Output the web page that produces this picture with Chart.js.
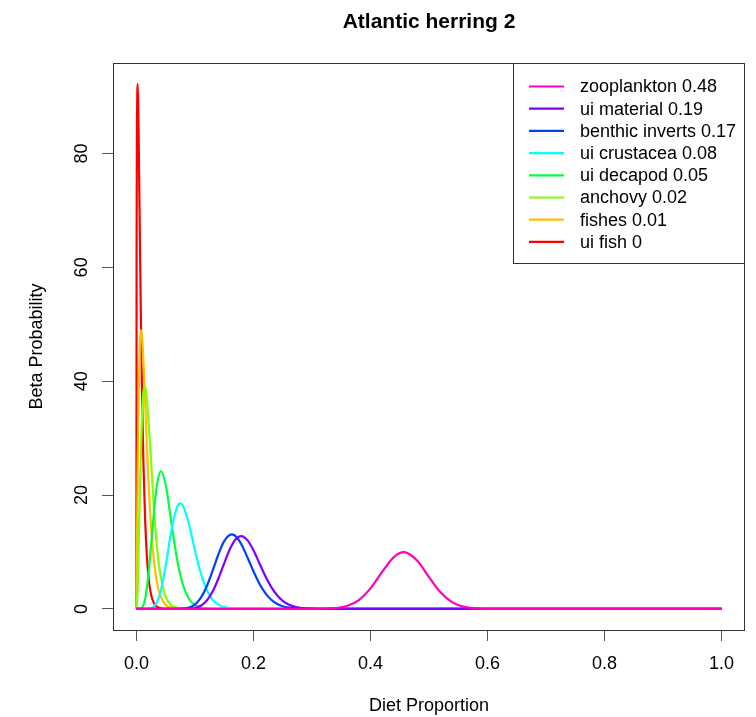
<!DOCTYPE html>
<html>
<head>
<meta charset="utf-8">
<script src="https://cdn.jsdelivr.net/npm/chart.js@4/dist/chart.umd.min.js"></script>
<style>
  body { margin: 0; background: #fff; }
  canvas { display: block; }
</style>
</head>
<body>
<canvas id="chart1" width="756" height="717"></canvas>
<script>
const title = "Atlantic herring 2"
const xLabel = "Diet Proportion"
const yLabel = "Beta Probability"
const xTicks = [0, 0.2, 0.4, 0.6, 0.8, 1.0]
const yTicks = [0, 20, 40, 60, 80]

const seriesNames = ["zooplankton 0.48", "ui material 0.19", "benthic inverts 0.17", "ui crustacea 0.08",
                     "ui decapod 0.05", "anchovy 0.02", "fishes 0.01", "ui fish 0"]
const seriesColors = ["#FF00BF", "#8000FF", "#0040FF", "#00FFFF", "#00FF40", "#80FF00", "#FFBF00", "#FF0000"]

// values, x = diet proportion, y = density
const zooplanktonX = [0, 0.30, 0.32, 0.34, 0.36, 0.38, 0.40, 0.42, 0.44, 0.457, 0.46, 0.48, 0.50, 0.52, 0.54, 0.56, 0.58, 0.60, 0.62, 1]
const zooplanktonY = [0, 0.005, 0.03, 0.14, 0.53, 1.56, 3.61, 6.50, 9.11, 9.97, 9.94, 8.45, 5.59, 2.88, 1.16, 0.36, 0.09, 0.02, 0, 0]

const uiMaterialX = [0, 0.09, 0.10, 0.11, 0.12, 0.13, 0.14, 0.15, 0.16, 0.17, 0.179, 0.19, 0.20, 0.21, 0.22, 0.23, 0.24, 0.25, 0.26, 0.27, 0.28, 0.30, 0.32, 1]
const uiMaterialY = [0, 0.05, 0.17, 0.55, 1.43, 3.01, 5.31, 8.01, 10.56, 12.29, 12.8, 12.04, 10.29, 8.07, 5.83, 3.92, 2.45, 1.43, 0.78, 0.40, 0.19, 0.04, 0, 0]

const benthicX = [0, 0.07, 0.08, 0.09, 0.10, 0.11, 0.12, 0.13, 0.14, 0.15, 0.163, 0.17, 0.18, 0.19, 0.20, 0.21, 0.22, 0.23, 0.24, 0.25, 0.26, 0.27, 0.28, 0.30, 1]
const benthicY = [0, 0.01, 0.05, 0.23, 0.76, 1.93, 3.94, 6.65, 9.56, 11.9, 13.1, 12.75, 11.24, 9.0, 6.61, 4.48, 2.82, 1.65, 0.90, 0.46, 0.22, 0.10, 0.04, 0, 0]

const crustaceaX = [0, 0.02, 0.03, 0.04, 0.05, 0.06, 0.07, 0.075, 0.08, 0.09, 0.10, 0.11, 0.12, 0.13, 0.14, 0.15, 0.16, 0.18, 0.20, 1]
const crustaceaY = [0, 0.02, 0.39, 2.52, 7.58, 13.9, 18.0, 18.55, 18.05, 14.8, 10.3, 6.27, 3.40, 1.66, 0.75, 0.31, 0.12, 0.02, 0, 0]

const decapodX = [0, 0.005, 0.01, 0.015, 0.02, 0.025, 0.03, 0.035, 0.042, 0.05, 0.06, 0.07, 0.08, 0.09, 0.10, 0.11, 0.12, 0.14, 1]
const decapodY = [0, 0.01, 0.27, 1.81, 5.54, 11.1, 17.0, 21.7, 24.2, 21.8, 15.0, 8.43, 4.08, 1.75, 0.68, 0.24, 0.08, 0, 0]

const anchovyX = [0, 0.001, 0.002, 0.004, 0.006, 0.008, 0.010, 0.012, 0.0143, 0.017, 0.02, 0.025, 0.03, 0.035, 0.04, 0.05, 0.06, 0.07, 0.08, 0.09, 1]
const anchovyY = [0, 0.86, 3.41, 11.6, 20.8, 28.8, 34.7, 38.1, 39.2, 37.8, 34.0, 26.1, 17.6, 11.1, 6.66, 2.15, 0.62, 0.17, 0.04, 0, 0]

const fishesX = [0, 0.0005, 0.001, 0.002, 0.003, 0.004, 0.006, 0.008, 0.010, 0.013, 0.016, 0.02, 0.025, 0.03, 0.035, 0.04, 0.05, 0.06, 0.07, 0.08, 1]
const fishesY = [0, 5.1, 11.1, 22.4, 31.7, 38.7, 46.8, 49.0, 47.4, 41.2, 33.6, 23.8, 14.5, 8.4, 4.7, 2.57, 0.72, 0.19, 0.05, 0, 0]

const uiFishX = [0, 0.0003, 0.0006, 0.001, 0.0015, 0.002, 0.003, 0.004, 0.006, 0.008, 0.010, 0.012, 0.015, 0.018, 0.021, 0.025, 0.03, 0.035, 0.04, 0.05, 0.06, 1]
const uiFishY = [0, 60.0, 75.0, 85.6, 90.5, 92.2, 89.0, 81.8, 64.5, 48.5, 35.5, 25.6, 15.4, 9.1, 5.3, 2.55, 1.0, 0.39, 0.15, 0.02, 0, 0]

const seriesX = [zooplanktonX, uiMaterialX, benthicX, crustaceaX, decapodX, anchovyX, fishesX, uiFishX]
const seriesY = [zooplanktonY, uiMaterialY, benthicY, crustaceaY, decapodY, anchovyY, fishesY, uiFishY]

;(function() {
    const FONT = "'Liberation Sans', Arial, sans-serif"
    Chart.defaults.font.family = FONT
    Chart.defaults.font.size = 18
    Chart.defaults.color = "#000"

    const datasets = seriesNames.map((name, i) => ({
        label: name,
        data: seriesX[i].map((x, j) => ({ x: x, y: seriesY[i][j] })),
        borderColor: seriesColors[i],
        backgroundColor: seriesColors[i],
        borderWidth: 2.2,
        pointRadius: 0,
        cubicInterpolationMode: "monotone",
        fill: false,
        order: i
    }))

    // R style frame around the plot region + legend box in the top right
    const frameAndLegend = {
        id: "frameAndLegend",
        afterDatasetsDraw(chart) {
            const { ctx, chartArea: a } = chart
            ctx.save()
            ctx.strokeStyle = "#333"
            ctx.lineWidth = 1
            ctx.strokeRect(a.left + 0.5, a.top + 0.5, a.right - a.left - 1, a.bottom - a.top)

            const lx = 513, ly = a.top, lw = a.right - lx, lh = 200
            ctx.fillStyle = "#fff"
            ctx.fillRect(lx + 0.5, ly + 0.5, lw, lh)
            ctx.strokeRect(lx + 0.5, ly + 0.5, lw - 1, lh)

            ctx.font = "18px " + FONT
            ctx.textBaseline = "middle"
            ctx.textAlign = "left"
            chart.data.datasets.forEach((ds, i) => {
                const y = 86.5 + i * 22.2
                ctx.strokeStyle = ds.borderColor
                ctx.lineWidth = 2.2
                ctx.beginPath()
                ctx.moveTo(529, y)
                ctx.lineTo(564, y)
                ctx.stroke()
                ctx.fillStyle = "#000"
                ctx.fillText(ds.label, 580, y + 1)
            })
            ctx.restore()
        }
    }

    const chartData = {
        type: "line",
        data: { datasets: datasets },
        plugins: [frameAndLegend],
        options: {
            responsive: false,
            animation: false,
            layout: { padding: { left: 0, right: 11, top: 0, bottom: 0 } },
            plugins: {
                legend: { display: false },
                tooltip: { enabled: false },
                title: {
                    display: true,
                    text: title,
                    fullSize: false,
                    color: "#000",
                    font: { size: 21, weight: "bold" },
                    padding: { top: 9.4, bottom: 28.4 }
                }
            },
            scales: {
                x: {
                    type: "linear",
                    min: -0.04,
                    max: 1.04,
                    afterBuildTicks: axis => { axis.ticks = xTicks.map(v => ({ value: v })) },
                    afterFit: axis => { axis.height = 87 },
                    border: { display: false },
                    grid: { drawOnChartArea: false, drawTicks: true, tickLength: 11, tickColor: "#555" },
                    ticks: {
                        padding: 12,
                        maxRotation: 0,
                        autoSkip: false,
                        callback: v => Number(v).toFixed(1)
                    },
                    title: { display: true, text: xLabel, padding: { top: 0, bottom: 0 } }
                },
                y: {
                    type: "linear",
                    min: -3.7,
                    max: 95.9,
                    afterBuildTicks: axis => { axis.ticks = yTicks.map(v => ({ value: v })) },
                    afterFit: axis => { axis.width = 113 },
                    border: { display: false },
                    grid: { drawOnChartArea: false, drawTicks: true, tickLength: 11, tickColor: "#555" },
                    ticks: {
                        padding: 10,
                        minRotation: 90,
                        maxRotation: 90,
                        crossAlign: "center",
                        autoSkip: false,
                        callback: v => String(v)
                    },
                    title: { display: true, text: yLabel, padding: { top: 26, bottom: 0 } }
                }
            }
        }
    }

    const ctx = document.getElementById("chart1").getContext("2d")
    new Chart(ctx, chartData)
})()
</script>
</body>
</html>
